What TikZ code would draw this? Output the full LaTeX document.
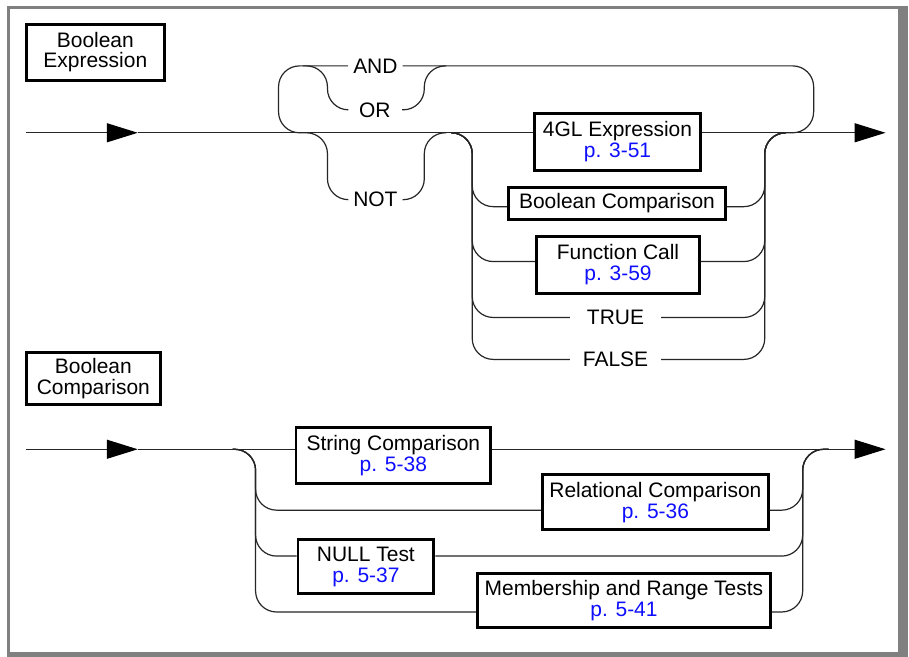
\documentclass[tikz,border=0pt]{standalone}
\usepackage{fontspec}
\setmainfont{Liberation Sans}
\usepackage{tikz}
\usetikzlibrary{arrows.meta}

\definecolor{linkblue}{RGB}{15,15,255}
\definecolor{framegray}{RGB}{128,128,128}

\tikzset{
  rail/.style={line width=1.2pt, black!85, rounded corners=21pt},
  into/.style={-{Triangle[length=31pt,width=19pt,color=black]}},
  synbox/.style={draw, line width=2.9pt, fill=white, align=center, inner xsep=6pt,
    font=\fontsize{21}{21}\selectfont},
  kw/.style={inner sep=0pt, minimum width=54pt, font=\fontsize{21}{21}\selectfont},
}
\newcommand{\pref}[1]{\textcolor{linkblue}{#1}}

\begin{document}
\begin{tikzpicture}[x=1pt, y=-1pt]
\fill[white] (0,0) rectangle (909,658);
\draw[framegray, line width=3pt] (8.5,655) |- (909,8);
\fill[framegray] (899,9) rectangle (909,658);
\fill[framegray] (7,653) rectangle (909,658);

% Boolean Expression
\node (exprtitle) [synbox, font=\fontsize{21}{20}\selectfont, minimum width=138.2pt, minimum height=56.2pt] at (95.5,52.5) {Boolean\\Expression};

\node (andkw) [kw] at (376,66) {AND};
\node (orkw) [kw] at (375.5,110) {OR};
\node (notkw) [kw] at (376,200) {NOT};

\node (fourgl) [synbox, minimum width=166.1pt, minimum height=57.1pt] at (618.5,142) {4GL Expression\\\pref{p. 3-51}};
\node (boolcmp) [synbox, minimum width=217.1pt, minimum height=32.1pt] at (618,203.5) {Boolean Comparison};
\node (funccall) [synbox, minimum width=163.1pt, minimum height=57.1pt] at (619,265) {Function Call\\\pref{p. 3-59}};
\node (truekw) [kw, minimum width=91pt] at (616.5,318) {TRUE};
\node (falsekw) [kw, minimum width=91pt] at (616.5,360) {FALSE};

\coordinate (s1) at (26,133);
\coordinate (a1) at (138,133);
\coordinate (j1) at (303,133);
\coordinate (v1) at (328,133);
\coordinate (v2) at (425,133);
\coordinate (j2) at (447,133);
\coordinate (j3) at (452,133);
\coordinate (v3) at (473,133);
\coordinate (v4) at (766,133);
\coordinate (j4) at (787,133);
\coordinate (w1) at (815,133);
\coordinate (w0) at (279,133);
\coordinate (o1) at (303,66);
\coordinate (o2) at (447,66);
\coordinate (e1) at (887,133);

\draw[rail, into] (s1) -- (a1);
\draw[rail] (a1) -- (fourgl.west |- a1);
\draw[rail, into] (fourgl.east |- e1) -- (e1);

\draw[rail] (j1) -- (v1) |- (notkw.west);
\draw[rail] (notkw.east) -| (v2) -- (j2);

\draw[rail] (j4) -- (w1) |- (andkw.east);
\draw[rail] (andkw.west) -| (w0) -- (j1);
\draw[rail] (o1) -- (o1 -| v1) |- (orkw.west);
\draw[rail] (orkw.east) -| (o2 -| v2) -- (o2);

\draw[rail] (j3) -- (v3) |- ([yshift=-3.5pt]boolcmp.west);
\draw[rail] (j3) -- (v3) |- ([yshift=3pt]funccall.west);
\draw[rail] (j3) -- (v3) |- (truekw.west);
\draw[rail] (j3) -- (v3) |- (falsekw.west);
\draw[rail] ([yshift=-3.5pt]boolcmp.east) -| (v4) -- (j4);
\draw[rail] ([yshift=3pt]funccall.east) -| (v4) -- (j4);
\draw[rail] (truekw.east) -| (v4) -- (j4);
\draw[rail] (falsekw.east) -| (v4) -- (j4);

% Boolean Comparison
\node (cmptitle) [synbox, minimum width=134.2pt, minimum height=52.2pt] at (93.5,379.5) {Boolean\\Comparison};

\node (strcmp) [synbox, minimum width=195.1pt, minimum height=56.1pt] at (394,456.5) {String Comparison\\\pref{p. 5-38}};
\node (relcmp) [synbox, minimum width=226.1pt, minimum height=55.1pt] at (656.5,503) {Relational Comparison\\\pref{p. 5-36}};
\node (nulltest) [synbox, minimum width=136.1pt, minimum height=54.1pt] at (366.5,567.5) {NULL Test\\\pref{p. 5-37}};
\node (member) [synbox, minimum width=293.1pt, minimum height=54.1pt] at (625,601.5) {Membership and Range Tests\\\pref{p. 5-41}};

\coordinate (s2) at (26,450);
\coordinate (a2) at (138,450);
\coordinate (k1) at (233,450);
\coordinate (k2) at (256,450);
\coordinate (k3) at (804,450);
\coordinate (k4) at (830,450);
\coordinate (e2) at (887,450);

\draw[rail, into] (s2) -- (a2);
\draw[rail] (a2) -- (strcmp.west |- a2);
\draw[rail, into] (strcmp.east |- e2) -- (e2);

\draw[rail] (k1) -- (k2) |- ([yshift=-8pt]relcmp.west);
\draw[rail] (k1) -- (k2) |- ([yshift=10.5pt]nulltest.west);
\draw[rail] (k1) -- (k2) |- ([yshift=-11.5pt]member.west);
\draw[rail] ([yshift=-8pt]relcmp.east) -| (k3) -- (k4);
\draw[rail] ([yshift=10.5pt]nulltest.east) -| (k3) -- (k4);
\draw[rail] ([yshift=-11.5pt]member.east) -| (k3) -- (k4);
\end{tikzpicture}
\end{document}
